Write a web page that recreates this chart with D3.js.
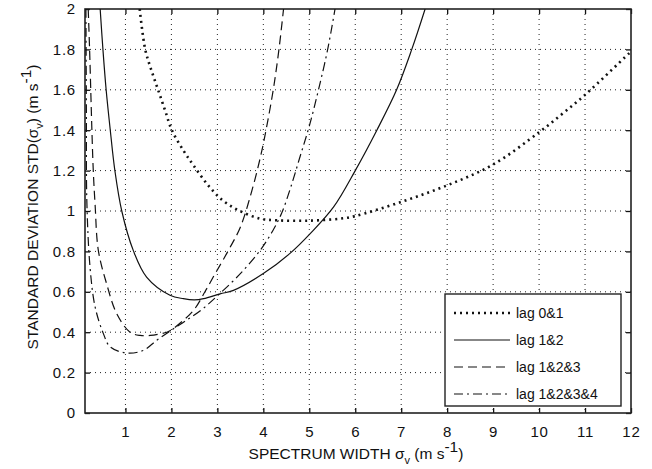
<!DOCTYPE html>
<html>
<head>
<meta charset="utf-8">
<script src="https://cdn.jsdelivr.net/npm/d3@7"></script>
<style>
body{margin:0;background:#fff;}
text{font-family:"Liberation Sans",Arial,sans-serif;fill:#111;}
</style>
</head>
<body>
<svg width="652" height="469"></svg>
<script>
// values: [spectrum width, std]
var lag01 = [[1.31,2.0],[1.43,1.8],[1.56,1.7],[1.71,1.6],[1.86,1.5],[2.01,1.40],[2.26,1.30],[2.48,1.226],[2.80,1.127],[3.13,1.05],[3.49,1.0],[3.93,0.962],[4.29,0.954],[4.95,0.952],[5.67,0.962],[6.0,0.975],[7,1.045],[8,1.127],[9,1.23],[10,1.39],[10.5,1.48],[11,1.575],[12,1.79]];
var lag12 = [[0.45,2.0],[0.51,1.8],[0.58,1.6],[0.67,1.4],[0.77,1.2],[0.92,1.0],[1.17,0.805],[1.46,0.673],[1.97,0.583],[2.26,0.566],[2.5,0.56],[2.70,0.566],[3.06,0.59],[3.35,0.607],[4.0,0.69],[4.58,0.79],[5.02,0.888],[5.53,1.02],[6.0,1.2],[6.47,1.4],[6.9,1.6],[7.23,1.8],[7.52,2.0]];
var lag123 = [[0.19,2.0],[0.22,1.8],[0.27,1.4],[0.30,1.2],[0.34,1.03],[0.41,0.805],[0.59,0.64],[0.81,0.492],[1.10,0.40],[1.32,0.384],[1.54,0.384],[1.9,0.40],[2.01,0.413],[2.48,0.508],[2.73,0.60],[2.91,0.673],[3.24,0.805],[3.5,0.92],[3.75,1.10],[3.95,1.28],[4.1,1.45],[4.23,1.62],[4.34,1.8],[4.44,2.0]];
var lag1234 = [[0.14,2.0],[0.15,1.5],[0.16,1.05],[0.23,0.72],[0.34,0.525],[0.52,0.393],[0.67,0.327],[1.03,0.297],[1.39,0.31],[1.68,0.36],[2.0,0.41],[2.3,0.455],[2.65,0.51],[3.0,0.58],[3.5,0.69],[3.93,0.805],[4.2,0.90],[4.4,0.99],[4.6,1.12],[4.8,1.27],[5.0,1.42],[5.2,1.6],[5.4,1.8],[5.56,2.0]];
var seriesNames = ["lag 0&1","lag 1&2","lag 1&2&3","lag 1&2&3&4"];
var xTicks = [1,2,3,4,5,6,7,8,9,10,11,12];
var yTicks = [0,0.2,0.4,0.6,0.8,1,1.2,1.4,1.6,1.8,2];

var svg = d3.select("svg");
var pL = 85, pR = 631, pT = 9, pB = 413;

var x = d3.scaleLinear().domain([0.12,12]).range([pL,pR]);
var y = d3.scaleLinear().domain([0,2]).range([pB,pT]);

svg.append("clipPath").attr("id","clip")
  .append("rect").attr("x",pL).attr("y",pT).attr("width",pR-pL).attr("height",pB-pT);

// grid
var grid = svg.append("g");
grid.selectAll(".gx").data(xTicks.slice(0,-1)).enter().append("line")
  .attr("x1",d=>x(d)).attr("x2",d=>x(d)).attr("y1",pT).attr("y2",pB)
  .attr("stroke","#222").attr("stroke-dasharray","1,4");
grid.selectAll(".gy").data(yTicks.slice(1,-1)).enter().append("line")
  .attr("y1",d=>y(d)).attr("y2",d=>y(d)).attr("x1",pL).attr("x2",pR)
  .attr("stroke","#222").attr("stroke-dasharray","1,4");

// axes, ticks inward
svg.append("g").attr("transform","translate(0,"+pB+")")
  .call(d3.axisBottom(x).tickValues(xTicks).tickSizeInner(-5).tickSizeOuter(0).tickPadding(13));
svg.append("g").attr("transform","translate("+pL+",0)")
  .call(d3.axisLeft(y).tickValues(yTicks).tickFormat(d3.format("")).tickSizeInner(-5).tickSizeOuter(0).tickPadding(9));
svg.append("g").attr("transform","translate(0,"+pT+")")
  .call(d3.axisTop(x).tickValues(xTicks).tickSizeInner(-5).tickSizeOuter(0).tickFormat(""));
svg.append("g").attr("transform","translate("+pR+",0)")
  .call(d3.axisRight(y).tickValues(yTicks).tickSizeInner(-5).tickSizeOuter(0).tickFormat(""));
svg.selectAll(".domain").remove();
svg.selectAll(".tick line").attr("stroke","#111").attr("stroke-width",1.3);
svg.selectAll(".tick text").style("font-size","15px").style("letter-spacing","0.8px")
  .style("font-family","'Liberation Sans',Arial,sans-serif").attr("fill","#111");

svg.append("rect").attr("x",pL).attr("y",pT).attr("width",pR-pL).attr("height",pB-pT)
  .attr("fill","none").attr("stroke","#222").attr("stroke-width",1.6);

// curves
var line = d3.line().x(d=>x(d[0])).y(d=>y(d[1])).curve(d3.curveCatmullRom.alpha(0.5));
var styles = [
  {w:2.6, dash:"2,4"},
  {w:1.2, dash:null},
  {w:1.2, dash:"9,5"},
  {w:1.2, dash:"9,4,2,4"}
];
var data = [lag01, lag12, lag123, lag1234];
var plot = svg.append("g").attr("clip-path","url(#clip)");
plot.selectAll("path").data(data).enter().append("path")
  .attr("d",line).attr("fill","none").attr("stroke","#111")
  .attr("stroke-width",(d,i)=>styles[i].w)
  .attr("stroke-dasharray",(d,i)=>styles[i].dash);

// legend
var lg = svg.append("g");
lg.append("rect").attr("x",445).attr("y",294).attr("width",176).attr("height",112)
  .attr("fill","#fff").attr("stroke","#222").attr("stroke-width",1.4);
seriesNames.forEach(function(n,i){
  var ly = 313 + i*27;
  lg.append("line").attr("x1",454).attr("x2",510).attr("y1",ly).attr("y2",ly)
    .attr("stroke","#111").attr("stroke-width",styles[i].w)
    .attr("stroke-dasharray",styles[i].dash);
  lg.append("text").attr("x",516).attr("y",ly+5).style("font-size","14px").text(n);
});

// axis labels
var xl = svg.append("text").attr("x",356).attr("y",459).attr("text-anchor","middle").style("font-size","15.5px");
xl.append("tspan").text("SPECTRUM WIDTH \u03c3");
xl.append("tspan").attr("dy",5).style("font-size","11px").text("v");
xl.append("tspan").attr("dy",-5).text(" (m s");
xl.append("tspan").attr("dy",-7).text("-1");
xl.append("tspan").attr("dy",7).text(")");

var yl = svg.append("text").attr("transform","translate(38,207) rotate(-90)").attr("text-anchor","middle").style("font-size","15.5px");
yl.append("tspan").text("STANDARD DEVIATION  STD(\u03c3");
yl.append("tspan").attr("dy",5).style("font-size","11px").text("v");
yl.append("tspan").attr("dy",-5).text(")  (m s");
yl.append("tspan").attr("dy",-7).text("-1");
yl.append("tspan").attr("dy",7).text(")");
</script>
</body>
</html>
